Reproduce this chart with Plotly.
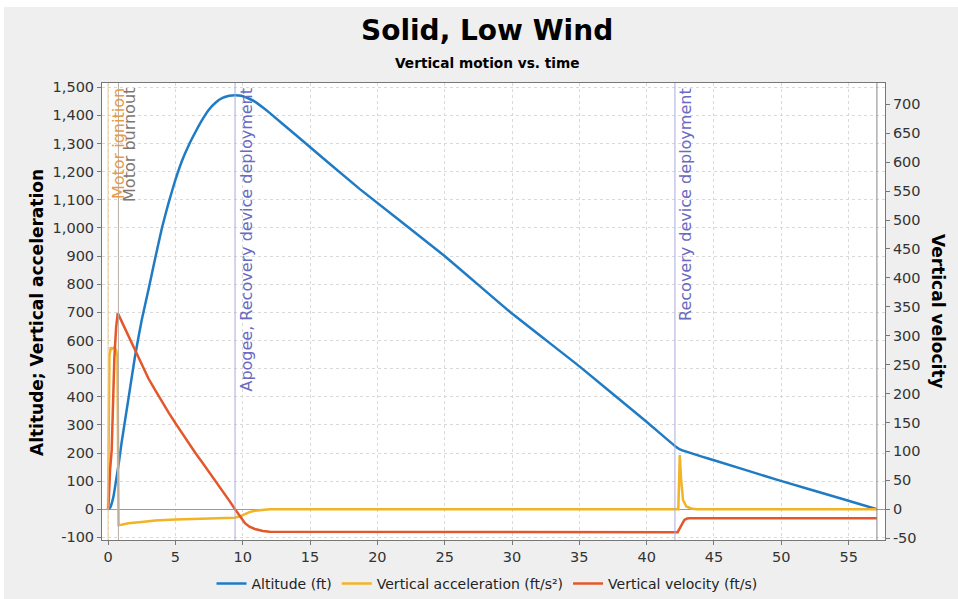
import plotly.graph_objects as go

# ---------------- data ----------------
time_alt = [0.0, 0.15, 0.4, 0.64, 0.8, 1.0, 1.5, 2.0, 2.5, 3.0, 3.5, 4.0, 4.5, 5.0,
            5.5, 6.0, 6.5, 7.0, 7.5, 8.0, 8.5, 9.0, 9.43, 9.9, 10.4, 10.9, 11.5, 12.0,
            13.9, 18.7, 24.9, 29.84, 35.03, 39.99, 42.1, 42.46, 44.94, 49.9, 54.8, 57.1]
altitude = [0, 5, 45, 116, 165, 235, 389, 543, 673, 780, 892, 1000, 1090, 1171,
            1240, 1295, 1342, 1385, 1421, 1446, 1462, 1470, 1472, 1470, 1461, 1449, 1428, 1409,
            1332, 1138, 904, 702, 507, 311, 225, 213, 175, 102, 33, 0]

time_acc = [0.0, 0.03, 0.06, 0.1, 0.2, 0.3, 0.45, 0.6, 0.7, 0.74, 0.78, 1.0, 1.5,
            2.5, 3.5, 5.0, 6.0, 7.2, 8.0, 9.4, 9.8, 10.17, 10.5, 10.9, 11.5, 12.0, 42.35,
            42.4, 42.46, 42.55, 42.7, 42.95, 43.3, 43.7, 57.1]
acceleration = [0, 310, 500, 545, 575, 570, 575, 565, 540, 300, -56, -55, -50,
                -45, -40, -36, -35, -32, -31, -30, -25, -17, -10, -5, -1, 0, 0,
                120, 193, 110, 33, 10, 3, 0, 0]

time_vel = [0.0, 0.05, 0.15, 0.27, 0.47, 0.6, 0.72, 1.0, 1.5, 2.0, 2.5, 3.0, 3.5, 4.0,
            4.5, 5.0, 5.5, 6.0, 6.5, 7.0, 7.5, 8.0, 8.5, 9.0, 9.43, 9.8, 10.17, 10.5,
            10.9, 11.5, 12.0, 42.3, 42.45, 42.58, 42.8, 43.0, 43.2, 57.1]
velocity = [0, 15, 68, 102, 263, 315, 339, 325, 298, 273, 249, 226, 206, 186,
            167, 149, 131, 114, 97, 81, 65, 49, 32, 15, 0, -12, -24, -30,
            -34, -37.5, -38.8, -39.5, -33, -27, -18.4, -16, -15.5, -15.5]

event_names = ["Motor ignition", "Motor burnout", "Apogee, Recovery device deployment",
               "Recovery device deployment", "Ground hit"]
event_times = [0.0, 0.77, 9.43, 42.1, 57.1]
event_line_colors = ["#f4c994", "#b9aea6", "#aaaadd", "#aaaadd", "#888888"]
event_text_colors = ["#e89a48", "#80766e", "#6a6ac2", "#6a6ac2", None]

x_ticks = list(range(0, 56, 5))
left_ticks = list(range(-100, 1501, 100))
right_ticks = list(range(-50, 701, 50))

# ---------------- figure ----------------
FONT = "DejaVu Sans"
W, H = 958, 599
ML, MR, MT, MB = 102, 73, 83, 59
PW, PH = W - ML - MR, H - MT - MB


def px_x(p):
    return (p - ML) / PW


def px_y(p):
    return (H - MB - p) / PH


fig = go.Figure()
fig.add_trace(go.Scatter(x=time_alt, y=altitude, name="Altitude (ft)", mode="lines",
                         line=dict(color="#1f7bc4", width=2.5, shape="spline", smoothing=0.4)))
fig.add_trace(go.Scatter(x=time_acc, y=acceleration, name="Vertical acceleration (ft/s²)",
                         mode="lines", line=dict(color="#f2b324", width=2.5)))
fig.add_trace(go.Scatter(x=time_vel, y=velocity, name="Vertical velocity (ft/s)",
                         mode="lines", line=dict(color="#e4572a", width=2.5), yaxis="y2"))

shapes = []
annotations = []
for name, t, lc, tc in zip(event_names, event_times, event_line_colors, event_text_colors):
    shapes.append(dict(type="line", xref="x", yref="paper", x0=t, x1=t, y0=0, y1=1,
                       line=dict(color=lc, width=1), layer="above"))
    if tc is not None:
        annotations.append(dict(text=name, xref="x", yref="paper", x=t, y=1,
                                xanchor="left", yanchor="top", xshift=-1, yshift=-3,
                                textangle=-90, showarrow=False,
                                font=dict(family=FONT, size=16, color=tc)))

# white strips at the top and left edge of the picture
shapes.append(dict(type="rect", xref="paper", yref="paper", x0=px_x(0), x1=px_x(W),
                   y0=px_y(7), y1=px_y(0), fillcolor="white", line=dict(width=0)))
shapes.append(dict(type="rect", xref="paper", yref="paper", x0=px_x(0), x1=px_x(4),
                   y0=px_y(H), y1=px_y(0), fillcolor="white", line=dict(width=0)))

annotations += [
    dict(text="<b>Solid, Low Wind</b>", xref="paper", yref="paper", x=px_x(487), y=px_y(31),
         xanchor="center", yanchor="middle", showarrow=False,
         font=dict(family=FONT, size=28, color="black")),
    dict(text="<b>Vertical motion vs. time</b>", xref="paper", yref="paper", x=px_x(487),
         y=px_y(63), xanchor="center", yanchor="middle", showarrow=False,
         font=dict(family=FONT, size=13.7, color="black")),
    dict(text="<b>Altitude; Vertical acceleration</b>", xref="paper", yref="paper",
         x=px_x(37), y=px_y(313), xanchor="center", yanchor="middle", textangle=-90,
         showarrow=False, font=dict(family=FONT, size=17, color="black")),
    dict(text="<b>Vertical velocity</b>", xref="paper", yref="paper",
         x=px_x(938), y=px_y(311), xanchor="center", yanchor="middle", textangle=90,
         showarrow=False, font=dict(family=FONT, size=17, color="black")),
]

axis_common = dict(showline=True, linecolor="#777777", linewidth=1, ticks="outside",
                   ticklen=4, tickcolor="#777777",
                   tickfont=dict(family=FONT, size=14.5, color="#333333"))

fig.update_layout(
    width=W, height=H, autosize=False,
    margin=dict(l=ML, r=MR, t=MT, b=MB, pad=0, autoexpand=False),
    paper_bgcolor="#efefef", plot_bgcolor="white",
    font=dict(family=FONT, color="#333333"),
    xaxis=dict(range=[-0.45, 57.7], tickvals=x_ticks, ticktext=[str(v) for v in x_ticks],
               showgrid=True, gridcolor="#d9d9d9", griddash="3px,3px", gridwidth=1,
               zeroline=False, mirror=True, **axis_common),
    yaxis=dict(range=[-109.2, 1515.2], tickvals=left_ticks,
               ticktext=[f"{v:,}" for v in left_ticks],
               showgrid=True, gridcolor="#d9d9d9", griddash="3px,3px", gridwidth=1,
               zeroline=True, zerolinecolor="#9a9a9a", zerolinewidth=1,
               mirror=True, **axis_common),
    yaxis2=dict(range=[-53.1, 736.8], overlaying="y", side="right", tickvals=right_ticks,
                ticktext=[str(v) for v in right_ticks], showgrid=False, zeroline=False,
                **axis_common),
    legend=dict(orientation="h", xref="container", yref="container",
                x=487 / W, xanchor="center", y=1 - 584 / H, yanchor="middle",
                bgcolor="rgba(0,0,0,0)",
                font=dict(family=FONT, size=14, color="#222222")),
    shapes=shapes,
    annotations=annotations,
    showlegend=True,
)

fig.write_html("out.html")
